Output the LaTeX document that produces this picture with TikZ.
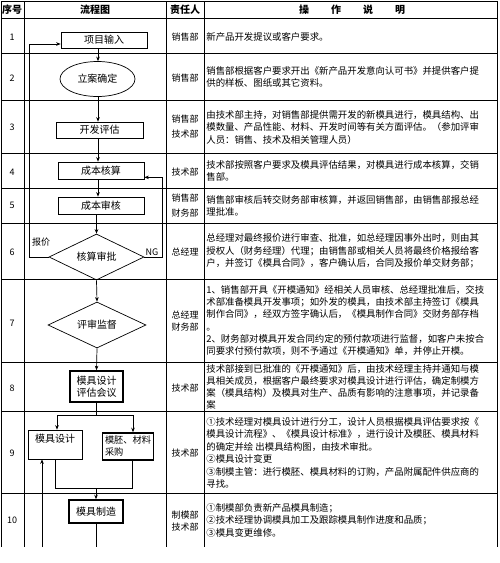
\documentclass[tikz,border=0pt]{standalone}
\usepackage{fontspec}
\setmainfont{Noto Sans CJK SC}
\usetikzlibrary{positioning, shapes.geometric, arrows.meta}

\begin{document}
\begin{tikzpicture}[
  x=1pt, y=-1pt,
  >={Stealth[length=4.5pt, width=3.6pt]},
  line width=0.7pt,
  arr/.style={->},
  tbl/.style={line width=0.9pt},
  hd/.style={font=\fontsize{10}{12}\selectfont\bfseries, inner sep=0},
  num/.style={font=\fontsize{9}{11}\selectfont, inner sep=0},
  dept/.style={font=\fontsize{9}{#1}\selectfont, align=center, inner sep=0},
  dept/.default=12.5,
  desc/.style={font=\fontsize{9.4}{#1}\selectfont, anchor=west, align=left, inner sep=0},
  desc/.default=12.5,
  blk/.style={draw, font=\fontsize{10}{12.5}\selectfont, align=center, inner sep=0},
  thk/.style={blk, line width=1.6pt},
  lbl/.style={font=\fontsize{9}{11}\selectfont, inner sep=0},
]
\useasboundingbox (0,0) rectangle (500,563);

%% ===== TABLE GRID =====

\draw[tbl] (1,1) -- (497,1);
\draw[line width=1.3pt] (1,18.5) -- (497,18.5);
\foreach \y in {53,100,153,188,223,279,362,411,493}
  \draw[tbl] (1,\y) -- (497,\y);
\foreach \x in {1,24,166,204,497}
  \draw[tbl] (\x,1) -- (\x,547);

\node[hd] (hnum)  at (12,10)  {序号};
\node[hd] (hflow) at (95,10)  {流程图};
\node[hd] (hdept) at (185,10) {责任人};
\node[hd] (hdesc) at (352,10) {操\hspace{22pt}作\hspace{22pt}说\hspace{22pt}明};

\foreach \n/\y in {1/37,2/78,3/127,4/172,5/205,6/252,7/323,8/388,9/453,10/520}
  \node[num] (n\n) at (12,\y) {\n};

%% ===== RESPONSIBLE DEPARTMENTS =====

\node[dept] (d1)  at (185,37)  {销售部};
\node[dept] (d2)  at (185,78)  {销售部};
\node[dept=15] (d3)  at (185,127) {销售部\\技术部};
\node[dept] (d4)  at (185,172) {技术部};
\node[dept=15] (d5)  at (185,206) {销售部\\财务部};
\node[dept] (d6)  at (185,252) {总经理};
\node[dept] (d7)  at (185,321) {总经理\\财务部};
\node[dept] (d8)  at (185,388) {技术部};
\node[dept] (d9)  at (185,453) {技术部};
\node[dept] (d10) at (185,521) {制模部\\技术部};

%% ===== OPERATION NOTES =====

\node[desc] (t1) at (206,37) {新产品开发提议或客户要求。};
\node[desc] (t2) at (206,77) {销售部根据客户要求开出《新产品开发意向认可书》并提供客户提\\供的样板、图纸或其它资料。};
\node[desc] (t3) at (206,127) {由技术部主持，对销售部提供需开发的新模具进行，模具结构、出\\模数量、产品性能、材料、开发时间等有关方面评估。（参加评审\\人员：销售、技术及相关管理人员）};
\node[desc] (t4) at (206,171) {技术部按照客户要求及模具评估结果，对模具进行成本核算，交销\\售部。};
\node[desc] (t5) at (206,206) {销售部审核后转交财务部审核算，并返回销售部，由销售部报总经\\理批准。};
\node[desc] (t6) at (206,251) {总经理对最终报价进行审查、批准，如总经理因事外出时，则由其\\授权人（财务经理）代理；由销售部或相关人员将最终价格报给客\\户，并签订《模具合同》，客户确认后，合同及报价单交财务部；};
\node[desc=12.2] (t7) at (206,320.5) {1、销售部开具《开模通知》经相关人员审核、总经理批准后，交技\\术部准备模具开发事项；如外发的模具，由技术部主持签订《模具\\制作合同》，经双方签字确认后，《模具制作合同》交财务部存档\\。\\2、财务部对模具开发合同约定的预付款项进行监督，如客户未按合\\同要求付预付款项，则不予通过《开模通知》单，并停止开模。};
\node[desc=11.8] (t8) at (206,387) {技术部接到已批准的《开模通知》后，由技术经理主持并通知与模\\具相关成员，根据客户最终要求对模具设计进行评估，确定制模方\\案（模具结构）及模具对生产、品质有影响的注意事项，并记录备\\案};
\node[desc] (t9) at (206,453) {①技术经理对模具设计进行分工，设计人员根据模具评估要求按《\\模具设计流程》、《模具设计标准》，进行设计及模胚、模具材料\\的确定并绘 出模具结构图，由技术审批。\\②模具设计变更\\③制模主管：进行模胚、模具材料的订购，产品附属配件供应商的\\寻找。};
\node[desc] (t10) at (206,520) {①制模部负责新产品模具制造；\\②技术经理协调模具加工及跟踪模具制作进度和品质；\\③模具变更维修。};

%% ===== FLOW CHART =====

\node[blk, minimum width=86pt, minimum height=16pt] (xmsr) at (104,40) {项目输入};
\node[blk, ellipse, minimum width=75pt, minimum height=35pt] (lian) at (97.5,79) {立案确定};
\node[blk, minimum width=87pt, minimum height=16pt] (kfpg) at (99.5,130) {开发评估};
\node[blk, minimum width=86pt, minimum height=17pt] (cbhs) at (101,170.5) {成本核算};
\node[blk, minimum width=86pt, minimum height=17pt] (cbsh) at (101,205.5) {成本审核};
\node[blk, diamond, aspect=2, minimum width=95pt, minimum height=46pt] (hssp) at (96.5,257) {核算审批};
\node[blk, diamond, aspect=2, minimum width=98pt, minimum height=46pt] (pssd) at (97,325) {评审监督};
\node[thk, minimum width=53pt, minimum height=31pt] (pghy) at (96.5,386.5) {模具设计\\评估会议};
\node[blk, minimum width=54pt, minimum height=29pt] (mjsj) at (55,444.5) {模具设计\\~};
\node[thk, align=left, font=\fontsize{9.2}{12}\selectfont, minimum width=51pt, minimum height=27pt] (mpcg) at (128,446.5) {模胚、材料\\采购};
\node[thk, minimum width=54pt, minimum height=23pt] (mjzz) at (96,511.5) {模具制造};

\node[lbl] (ng) at (152,252) {NG};
\node[lbl] (bj) at (41,242)  {报价};

%% ===== ARROWS =====

\coordinate (axis) at (98,0);
\draw[arr] (xmsr.south -| axis) -- (lian.north -| axis);
\draw[arr] (lian.south -| axis) -- (kfpg.north -| axis);
\draw[arr] (kfpg.south -| axis) -- (cbhs.north -| axis);
\draw[arr] (cbhs.south -| axis) -- (cbsh.north -| axis);
\draw[arr] (cbsh.south -| hssp) -- (hssp.north);
\draw[arr] (hssp.south) -- (pssd.north);
\draw[arr] (pssd.south) -- (pghy.north);

\coordinate (ngR) at (162,257);
\draw[arr] (hssp.east) -- (ngR) |- ([yshift=2pt]cbhs.south east);
\coordinate (bjL) at (29,257);
\draw[arr] (hssp.west) -- (bjL) |- ([yshift=-4pt]xmsr.west);

\coordinate (splitL) at (57,415);
\coordinate (splitR) at (133,415);
\draw (pghy.south) -- (pghy.south |- splitL);
\draw (splitL) -- (splitR);
\draw[arr] (splitL) -- (splitL |- mjsj.north);
\draw[arr] (splitR) -- (splitR |- mpcg.north);

\coordinate (joinL) at (55,488);
\coordinate (joinR) at (132,488);
\draw (mjsj.south -| joinL) -- (joinL) -- (joinR) -- (mpcg.south -| joinR);
\draw[arr] (mjzz.north |- joinL) -- (mjzz.north);

\coordinate (endA) at (96,547);
\draw (mjzz.south) -- (endA);
\coordinate (endB) at (42,547);
\draw[arr] (endB) -- (endB |- mjsj.south);

\end{tikzpicture}
\end{document}
